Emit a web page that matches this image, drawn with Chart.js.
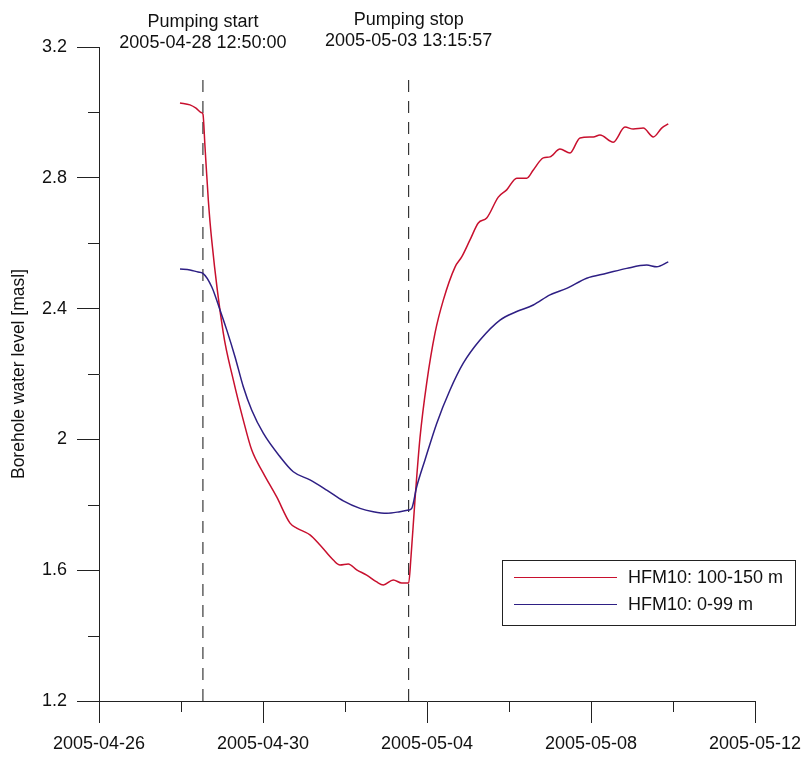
<!DOCTYPE html>
<html>
<head>
<meta charset="utf-8">
<script src="https://cdn.jsdelivr.net/npm/chart.js@4/dist/chart.umd.min.js"></script>
<style>
  html, body { margin: 0; padding: 0; background: #fff; }
  #wrap { width: 803px; height: 758px; position: relative; }
</style>
</head>
<body>
<div id="wrap"><canvas id="c" width="803" height="758"></canvas></div>
<script>
// ---------- data ----------
const axisStart = '2005-04-26 00:00';
const xTickLabels = ['2005-04-26', '2005-04-30', '2005-05-04', '2005-05-08', '2005-05-12'];
const xMinorTicks = ['2005-04-28', '2005-05-02', '2005-05-06', '2005-05-10'];
const yTicks = [1.2, 1.6, 2.0, 2.4, 2.8, 3.2];
const yMinorTicks = [1.4, 1.8, 2.2, 2.6, 3.0];
const yLabel = 'Borehole water level [masl]';

const eventNames = ['Pumping start', 'Pumping stop'];
const eventTimes = ['2005-04-28 12:50:00', '2005-05-03 13:15:57'];

const seriesNames = ['HFM10: 100-150 m', 'HFM10: 0-99 m'];

const redTimes = [
  '2005-04-27 23:25', '2005-04-28 05:16', '2005-04-28 08:47', '2005-04-28 11:42', '2005-04-28 12:50',
  '2005-04-28 14:03', '2005-04-28 15:59', '2005-04-28 17:58', '2005-04-29 00:46', '2005-04-29 06:37',
  '2005-04-29 12:28', '2005-04-29 17:22', '2005-04-30 00:10', '2005-04-30 08:01', '2005-04-30 15:49',
  '2005-04-30 19:44', '2005-05-01 03:30', '2005-05-01 09:22', '2005-05-01 17:09', '2005-05-01 21:04',
  '2005-05-02 01:55', '2005-05-02 06:50', '2005-05-02 12:41', '2005-05-02 18:33', '2005-05-02 22:25',
  '2005-05-03 04:16', '2005-05-03 09:11', '2005-05-03 13:16', '2005-05-03 14:38', '2005-05-03 16:58',
  '2005-05-03 19:54', '2005-05-03 23:50', '2005-05-04 04:41', '2005-05-04 09:33', '2005-05-04 16:24',
  '2005-05-04 20:19', '2005-05-05 01:10', '2005-05-05 06:02', '2005-05-05 10:57', '2005-05-05 17:44',
  '2005-05-05 22:39', '2005-05-06 04:31', '2005-05-06 10:22', '2005-05-06 14:14', '2005-05-06 20:05',
  '2005-05-07 00:00', '2005-05-07 05:51', '2005-05-07 11:42', '2005-05-07 17:34', '2005-05-08 01:21',
  '2005-05-08 05:16', '2005-05-08 13:03', '2005-05-08 19:54', '2005-05-09 00:46', '2005-05-09 06:37',
  '2005-05-09 12:28', '2005-05-09 17:22', '2005-05-09 21:14'
];
const redLevels = [
  3.029, 3.023, 3.013, 3.000, 2.995,
  2.895, 2.732, 2.610, 2.325, 2.182,
  2.059, 1.968, 1.897, 1.824, 1.744,
  1.729, 1.708, 1.677, 1.631, 1.616,
  1.619, 1.601, 1.585, 1.564, 1.555,
  1.570, 1.561, 1.561, 1.641, 1.815,
  2.005, 2.173, 2.325, 2.426, 2.527,
  2.558, 2.610, 2.662, 2.677, 2.741,
  2.763, 2.799, 2.799, 2.824, 2.861,
  2.864, 2.888, 2.876, 2.922, 2.925,
  2.931, 2.909, 2.955, 2.949, 2.952,
  2.925, 2.952, 2.965
];

const blueTimes = [
  '2005-04-27 23:25', '2005-04-28 05:16', '2005-04-28 09:58', '2005-04-28 12:50', '2005-04-28 17:58',
  '2005-04-28 22:50', '2005-04-29 02:46', '2005-04-29 07:36', '2005-04-29 12:28', '2005-04-29 17:22',
  '2005-04-30 00:10', '2005-04-30 09:58', '2005-04-30 17:44', '2005-05-01 03:30', '2005-05-01 13:17',
  '2005-05-01 23:01', '2005-05-02 08:47', '2005-05-02 16:33', '2005-05-03 00:24', '2005-05-03 08:11',
  '2005-05-03 13:16', '2005-05-03 15:03', '2005-05-03 17:58', '2005-05-03 22:49', '2005-05-04 05:41',
  '2005-05-04 13:28', '2005-05-04 21:14', '2005-05-05 07:02', '2005-05-05 18:44', '2005-05-06 04:31',
  '2005-05-06 14:14', '2005-05-07 00:00', '2005-05-07 09:46', '2005-05-07 21:29', '2005-05-08 09:11',
  '2005-05-08 20:54', '2005-05-09 08:37', '2005-05-09 14:27', '2005-05-09 21:14'
];
const blueLevels = [
  2.521, 2.518, 2.512, 2.508, 2.467,
  2.396, 2.335, 2.253, 2.161, 2.090,
  2.019, 1.947, 1.901, 1.876, 1.845,
  1.812, 1.789, 1.779, 1.774, 1.779,
  1.784, 1.789, 1.855, 1.937, 2.049,
  2.151, 2.233, 2.304, 2.365, 2.391,
  2.411, 2.442, 2.462, 2.493, 2.508,
  2.523, 2.533, 2.528, 2.543
];

const eventLineTop = 3.1;

// ---------- helpers ----------
function toMs(s) {
  let t = s.trim().replace(' ', 'T');
  if (t.length === 10) t += 'T00:00';
  return Date.parse(t + 'Z');
}
const t0 = toMs(axisStart);
function dayOf(s) { return (toMs(s) - t0) / 86400000; }
function pts(times, vals) { return times.map((t, i) => ({ x: dayOf(t), y: vals[i] })); }

const xTickVals = xTickLabels.map(dayOf);
const xMinorVals = xMinorTicks.map(dayOf);
const eventX = eventTimes.map(dayOf);

const FONT = '"Liberation Sans", Arial, Helvetica, sans-serif';
const colors = ['#c8102e', '#2e1f84'];

// ---------- plugins ----------
const extras = {
  id: 'extras',
  afterDraw(chart) {
    const ctx = chart.ctx;
    const xs = chart.scales.x, ys = chart.scales.y;
    const ca = chart.chartArea;
    ctx.save();
    // minor ticks
    ctx.strokeStyle = '#222';
    ctx.lineWidth = 1;
    ctx.beginPath();
    yMinorTicks.forEach(v => {
      const py = Math.round(ys.getPixelForValue(v)) + 0.5;
      ctx.moveTo(ca.left - 11, py); ctx.lineTo(ca.left, py);
    });
    xMinorVals.forEach(v => {
      const px = Math.round(xs.getPixelForValue(v)) + 0.5;
      ctx.moveTo(px, ca.bottom); ctx.lineTo(px, ca.bottom + 11);
    });
    ctx.stroke();

    // event annotations
    ctx.fillStyle = '#111';
    ctx.font = '18px ' + FONT;
    ctx.textAlign = 'center';
    ctx.textBaseline = 'alphabetic';
    const baseOff = [0, -2];
    eventNames.forEach((name, i) => {
      const px = xs.getPixelForValue(eventX[i]);
      ctx.fillText(name, px, 27 + baseOff[i]);
      ctx.fillText(eventTimes[i], px, 48 + baseOff[i]);
    });

    // legend
    const lx = 502.5, ly = 560.5, lw = 293, lh = 65;
    ctx.fillStyle = '#fff';
    ctx.fillRect(lx, ly, lw, lh);
    ctx.strokeStyle = '#222';
    ctx.lineWidth = 1;
    ctx.strokeRect(lx, ly, lw, lh);
    ctx.textAlign = 'left';
    ctx.fillStyle = '#111';
    seriesNames.forEach((name, i) => {
      const y = 577 + i * 27;
      ctx.strokeStyle = colors[i];
      ctx.beginPath();
      ctx.moveTo(514, y + 0.5); ctx.lineTo(617, y + 0.5);
      ctx.stroke();
      ctx.fillText(name, 628, y + 6);
    });
    ctx.restore();
  }
};

// ---------- chart ----------
const datasets = [
  {
    label: seriesNames[0],
    data: pts(redTimes, redLevels),
    borderColor: colors[0], borderWidth: 1.5,
    pointRadius: 0, cubicInterpolationMode: 'monotone', order: 2
  },
  {
    label: seriesNames[1],
    data: pts(blueTimes, blueLevels),
    borderColor: colors[1], borderWidth: 1.5,
    pointRadius: 0, cubicInterpolationMode: 'monotone', order: 1
  }
];
eventX.forEach((x, i) => {
  datasets.push({
    label: eventNames[i],
    data: [{ x: x, y: yTicks[0] }, { x: x, y: eventLineTop }],
    borderColor: '#111', borderWidth: 1, borderDash: [12, 9],
    pointRadius: 0, order: 3
  });
});

new Chart(document.getElementById('c'), {
  type: 'line',
  data: { datasets },
  options: {
    responsive: false,
    animation: false,
    events: [],
    layout: { padding: { top: 47, right: 48, left: 0, bottom: 0 } },
    plugins: { legend: { display: false }, tooltip: { enabled: false } },
    scales: {
      x: {
        type: 'linear',
        min: xTickVals[0], max: xTickVals[xTickVals.length - 1],
        afterBuildTicks: s => { s.ticks = xTickVals.map(v => ({ value: v })); },
        afterFit: s => { s.height = 57; s.paddingLeft = 0; s.paddingRight = 0; },
        grid: { drawOnChartArea: false, drawTicks: true, tickLength: 22, color: '#222', lineWidth: 1 },
        border: { display: true, color: '#222', width: 1 },
        ticks: {
          padding: 10, color: '#111', font: { family: FONT, size: 18 }, maxRotation: 0,
          callback: (v) => { const i = xTickVals.indexOf(v); return i >= 0 ? xTickLabels[i] : ''; }
        }
      },
      y: {
        type: 'linear',
        min: yTicks[0], max: yTicks[yTicks.length - 1],
        afterBuildTicks: s => { s.ticks = yTicks.map(v => ({ value: v })); },
        afterFit: s => { s.width = 99; s.paddingTop = 0; s.paddingBottom = 0; },
        grid: { drawOnChartArea: false, drawTicks: true, tickLength: 22, color: '#222', lineWidth: 1 },
        border: { display: true, color: '#222', width: 1 },
        title: { display: true, text: yLabel, color: '#111', font: { family: FONT, size: 17.5 }, padding: { top: 9, bottom: 0 } },
        ticks: {
          padding: 10, color: '#111', font: { family: FONT, size: 18 },
          callback: (v) => String(Math.round(v * 10) / 10)
        }
      }
    }
  },
  plugins: [extras]
});
</script>
</body>
</html>
